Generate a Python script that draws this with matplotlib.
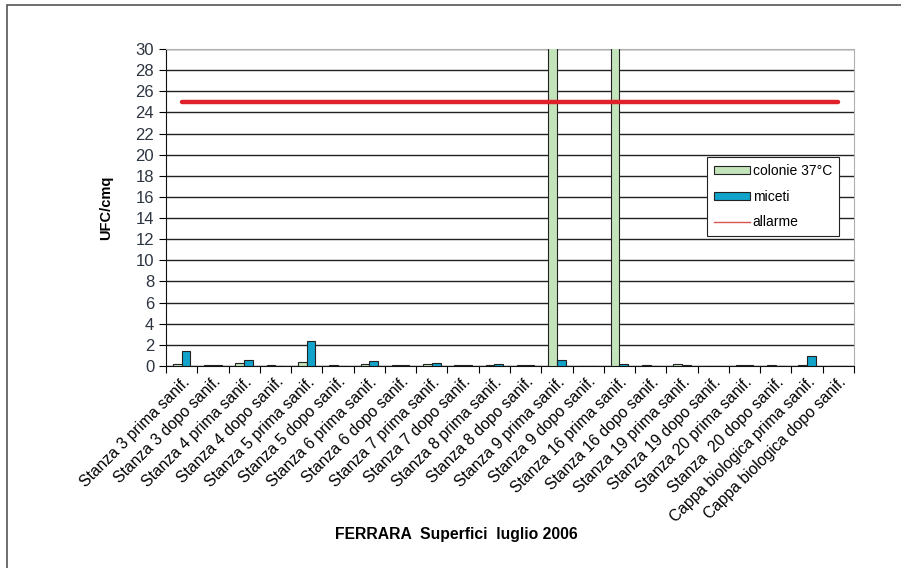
import numpy as np
import matplotlib.pyplot as plt
from matplotlib.patches import Rectangle

plt.rcParams['font.family'] = ['Liberation Sans', 'DejaVu Sans']

categories = [
    'Stanza 3 prima sanif.', 'Stanza 3 dopo sanif.',
    'Stanza 4 prima sanif.', 'Stanza 4 dopo sanif.',
    'Stanza 5 prima sanif.', 'Stanza 5 dopo sanif.',
    'Stanza 6 prima sanif.', 'Stanza 6 dopo sanif.',
    'Stanza 7 prima sanif.', 'Stanza 7 dopo sanif.',
    'Stanza 8 prima sanif.', 'Stanza 8 dopo sanif.',
    'Stanza 9 prima sanif.', 'Stanza 9 dopo sanif.',
    'Stanza 16 prima sanif.', 'Stanza 16 dopo sanif.',
    'Stanza 19 prima sanif.', 'Stanza 19 dopo sanif.',
    'Stanza 20 prima sanif.', 'Stanza  20 dopo sanif.',
    'Cappa biologica prima sanif.', 'Cappa biologica dopo sanif.',
]
colonie = [0.2, 0.1, 0.3, 0.1, 0.4, 0.1, 0.2, 0.1, 0.2, 0.1, 0.1,
           0.1, 50, 0, 50, 0.1, 0.2, 0, 0.1, 0.1, 0.1, 0]
miceti = [1.4, 0.1, 0.6, 0, 2.4, 0, 0.5, 0.1, 0.3, 0.1, 0.2,
          0.1, 0.6, 0, 0.2, 0, 0.1, 0, 0.1, 0, 0.9, 0]
allarme = 25

fig = plt.figure(figsize=(9.01, 5.68), dpi=100)
# outer chart frame
fig.patches.append(Rectangle((7 / 901, -0.1), 2, 1.1 - 5 / 568,
                             transform=fig.transFigure, fill=False,
                             edgecolor='#555555', linewidth=1.2))

ax = fig.add_axes([166 / 901, 1 - 366 / 568, 688 / 901, 317 / 568])
x = np.arange(len(categories))
w = 0.28
ax.bar(x - w / 2, colonie, w, color='#c3e3bb', edgecolor='#222222',
       linewidth=0.8, label='colonie 37°C', zorder=3)
ax.bar(x + w / 2, miceti, w, color='#12a3cb', edgecolor='#222222',
       linewidth=0.8, label='miceti', zorder=3)
ax.plot(x, [allarme] * len(x), color='#e0202a', linewidth=3.2,
        solid_capstyle='round', zorder=4)
ax.plot([], [], color='#d9534f', linewidth=1, label='allarme')

ax.set_xlim(-0.5, len(categories) - 0.5)
ax.set_ylim(0, 30)
ax.set_yticks(range(0, 31, 2))
ax.yaxis.grid(True, color='#222222', linewidth=1)
ax.set_axisbelow(True)
for s in ['top', 'right']:
    ax.spines[s].set_color('#b0b0b0')
for s in ['left', 'bottom']:
    ax.spines[s].set_color('#111111')

ax.set_xticks(np.arange(len(categories) + 1) - 0.5)
ax.set_xticklabels([])
ax.set_xticks(x, minor=True)
ax.set_xticklabels(categories, minor=True, rotation=45, ha='right',
                   rotation_mode='anchor', fontsize=11.3)
ax.tick_params(axis='x', which='minor', length=0, pad=6)
ax.tick_params(axis='x', which='major', length=5, direction='out')
ax.tick_params(axis='y', length=5, labelsize=12, labelcolor='#2d3540')

ax.set_ylabel('UFC/cmq', fontsize=10.5, fontweight='bold', labelpad=16)
fig.text(456 / 901, 1 - 535 / 568, 'FERRARA  Superfici  luglio 2006',
         ha='center', va='center', fontsize=11.3, fontweight='bold')

handles, labels = ax.get_legend_handles_labels()
order = [labels.index(l) for l in ['colonie 37°C', 'miceti', 'allarme']]
leg = ax.legend([handles[i] for i in order], [labels[i] for i in order],
                loc='upper left', bbox_to_anchor=(0.786, 0.66),
                fontsize=10, frameon=True, fancybox=False,
                edgecolor='#222222', framealpha=1, handlelength=2.6,
                handleheight=0.5, labelspacing=0.85, borderpad=0.5,
                handletextpad=0.2, borderaxespad=0)
leg.get_frame().set_linewidth(0.8)

fig.savefig('out.png', dpi=100)
